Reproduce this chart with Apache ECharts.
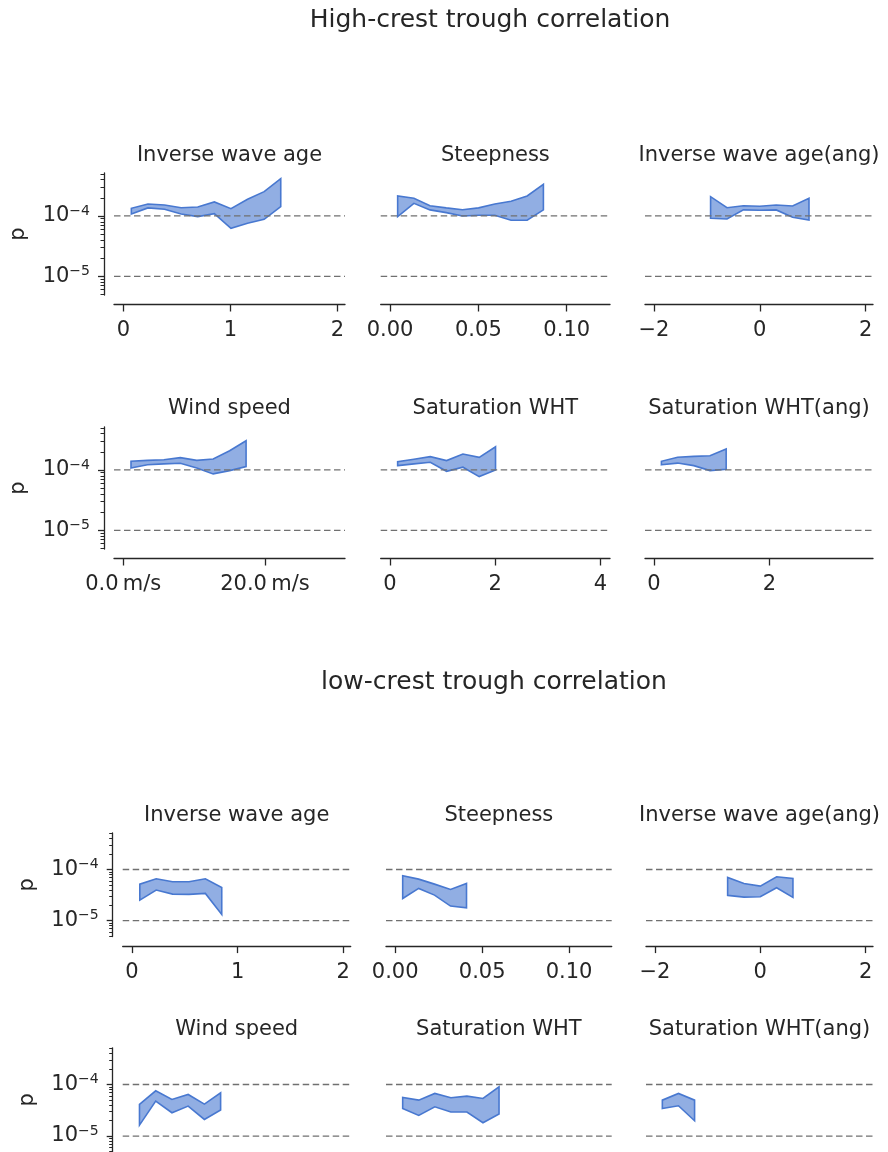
<!DOCTYPE html>
<html>
<head>
<meta charset="utf-8">
<script src="https://cdn.jsdelivr.net/npm/echarts@6/dist/echarts.min.js"></script>
<style>
  html, body { margin: 0; padding: 0; background: #ffffff; }
  #chart { width: 888px; height: 1152px; }
</style>
</head>
<body>
<div id="chart"></div>
<script>
// ---- bin centres of each predictor ----
const iwaX    = [0.075, 0.23, 0.385, 0.54, 0.695, 0.85, 1.005, 1.16, 1.315, 1.47];
const steepX  = [0.0043, 0.0135, 0.0226, 0.0318, 0.0410, 0.0501, 0.0593, 0.0685, 0.0776, 0.0868];
const iwaAngX = [-0.93, -0.62, -0.31, 0, 0.31, 0.62, 0.93];
const windX   = [1.1, 3.42, 5.74, 8.06, 10.38, 12.7, 15.02, 17.34];
const satX    = [0.145, 0.455, 0.765, 1.075, 1.385, 1.695, 2.005];
const satAngX = [0.13, 0.41, 0.69, 0.97, 1.25];

// ---- high-crest: lower / upper bounds of p ----
const hiIwaLo    = [1.08e-4, 1.36e-4, 1.29e-4, 1.08e-4, 0.975e-4, 1.09e-4, 0.625e-4, 0.756e-4, 0.88e-4, 1.43e-4];
const hiIwaUp    = [1.34e-4, 1.58e-4, 1.52e-4, 1.37e-4, 1.41e-4, 1.71e-4, 1.32e-4, 1.89e-4, 2.53e-4, 4.16e-4];
const hiSteepLo  = [0.975e-4, 1.62e-4, 1.26e-4, 1.135e-4, 1.0e-4, 1.026e-4, 1.026e-4, 0.848e-4, 0.848e-4, 1.26e-4];
const hiSteepUp  = [2.14e-4, 1.96e-4, 1.48e-4, 1.36e-4, 1.27e-4, 1.36e-4, 1.58e-4, 1.75e-4, 2.14e-4, 3.35e-4];
const hiIwaAngLo = [0.915e-4, 0.892e-4, 1.26e-4, 1.24e-4, 1.26e-4, 0.95e-4, 0.858e-4];
const hiIwaAngUp = [2.09e-4, 1.37e-4, 1.48e-4, 1.45e-4, 1.52e-4, 1.46e-4, 1.96e-4];
const hiWindLo   = [1.08e-4, 1.22e-4, 1.26e-4, 1.29e-4, 1.08e-4, 0.86e-4, 0.975e-4, 1.135e-4];
const hiWindUp   = [1.39e-4, 1.44e-4, 1.48e-4, 1.6e-4, 1.44e-4, 1.52e-4, 2.08e-4, 3.05e-4];
const hiSatLo    = [1.18e-4, 1.26e-4, 1.34e-4, 0.95e-4, 1.11e-4, 0.776e-4, 1.0e-4];
const hiSatUp    = [1.37e-4, 1.5e-4, 1.66e-4, 1.43e-4, 1.84e-4, 1.62e-4, 2.42e-4];
const hiSatAngLo = [1.22e-4, 1.30e-4, 1.18e-4, 0.975e-4, 1.03e-4];
const hiSatAngUp = [1.39e-4, 1.62e-4, 1.68e-4, 1.72e-4, 2.22e-4];

// ---- low-crest: lower / upper bounds of p ----
const loIwaLo    = [2.53e-5, 3.96e-5, 3.31e-5, 3.26e-5, 3.41e-5, 1.33e-5];
const loIwaUp    = [5.18e-5, 6.58e-5, 5.75e-5, 5.75e-5, 6.58e-5, 4.46e-5];
const loSteepLo  = [2.72e-5, 4.27e-5, 3.16e-5, 1.93e-5, 1.79e-5];
const loSteepUp  = [7.53e-5, 6.48e-5, 5.18e-5, 4.07e-5, 5.34e-5];
const loIwaAngX  = [-0.62, -0.31, 0, 0.31, 0.62];
const loIwaAngLo = [3.12e-5, 2.89e-5, 2.94e-5, 4.4e-5, 2.85e-5];
const loIwaAngUp = [6.98e-5, 5.34e-5, 4.73e-5, 7.2e-5, 6.68e-5];
const loWindLo   = [1.63e-5, 4.76e-5, 2.83e-5, 3.81e-5, 2.1e-5, 3.19e-5];
const loWindUp   = [4.1e-5, 7.54e-5, 5.13e-5, 6.4e-5, 4.16e-5, 6.9e-5];
const loSatLo    = [3.43e-5, 2.51e-5, 3.7e-5, 2.92e-5, 2.92e-5, 1.81e-5, 2.67e-5];
const loSatUp    = [5.6e-5, 4.97e-5, 6.7e-5, 5.52e-5, 5.95e-5, 5.36e-5, 9.0e-5];
const loSatAngLo = [3.43e-5, 3.87e-5, 1.98e-5];
const loSatAngUp = [4.97e-5, 6.7e-5, 4.97e-5];

// ---- texts and ticks ----
const sectionTitles = ['High-crest trough correlation', 'low-crest trough correlation'];
const panelTitles = ['Inverse wave age', 'Steepness', 'Inverse wave age(ang)',
                     'Wind speed', 'Saturation WHT', 'Saturation WHT(ang)'];
const pMajorTicks = [1e-5, 1e-4];
const pMinorTicks = [5e-6, 6e-6, 7e-6, 8e-6, 9e-6,
                     2e-5, 3e-5, 4e-5, 5e-5, 6e-5, 7e-5, 8e-5, 9e-5,
                     2e-4, 3e-4, 4e-4, 5e-4];
const pThresholds = [1e-4, 1e-5];
const iwaTicks    = [0, 1, 2];
const steepTicks  = [0, 0.05, 0.10];
const iwaAngTicks = [-2, 0, 2];
const windTicks   = [0, 20];
const satTicks    = [0, 2, 4];
const satAngTicks = [0, 2];

// ---- axis limits ----
const P_MIN = 4.9e-6, P_MAX = 5.15e-4;
const xLimits = [[-0.087, 2.07], [-0.0053, 0.1245], [-2.17, 2.14],
                 [-1.3, 31.3], [-0.177, 4.18], [-0.154, 3.79]];
const xTickSets = [iwaTicks, steepTicks, iwaAngTicks, windTicks, satTicks, satAngTicks];
const minus = v => (v < 0 ? '\u2212' + Math.abs(v) : String(v));
const xFormatters = [
  v => String(v),
  v => v.toFixed(2),
  v => minus(v),
  v => v.toFixed(1) + '\u2009m/s',
  v => String(v),
  v => String(v)
];

const sections = [
  {
    title: sectionTitles[0], titleX: 490, titleY: 20,
    panels: [
      [iwaX, hiIwaLo, hiIwaUp], [steepX, hiSteepLo, hiSteepUp], [iwaAngX, hiIwaAngLo, hiIwaAngUp],
      [windX, hiWindLo, hiWindUp], [satX, hiSatLo, hiSatUp], [satAngX, hiSatAngLo, hiSatAngUp]
    ],
    rows: [{ top: 173, height: 122, titleY: 156 }, { top: 427, height: 122, titleY: 408.5 }],
    cols: [[114, 345], [380.7, 610], [645, 873]]
  },
  {
    title: sectionTitles[1], titleX: 494, titleY: 682,
    panels: [
      [iwaX.slice(0, 6), loIwaLo, loIwaUp], [steepX.slice(0, 5), loSteepLo, loSteepUp], [loIwaAngX, loIwaAngLo, loIwaAngUp],
      [windX.slice(0, 6), loWindLo, loWindUp], [satX, loSatLo, loSatUp], [satAngX.slice(0, 3), loSatAngLo, loSatAngUp]
    ],
    rows: [{ top: 833, height: 103.6, titleY: 815.5 }, { top: 1047.8, height: 104.2, titleY: 1029.5 }],
    cols: [[122.7, 350.7], [386, 611.7], [646, 873]]
  }
];

const FONT = 'DejaVu Sans';
const INK = '#262626';
const EDGE = '#4878d0';
const FILL = 'rgba(72,120,208,0.6)';

// filled band between the lower and upper bound, drawn once per series
function drawBand(params, api) {
  if (params.dataIndexInside !== 0) return null;
  const n = params.dataInsideLength;
  const lower = [], upper = [];
  for (let i = 0; i < n; i++) {
    const x = api.value(0, i);
    lower.push(api.coord([x, api.value(1, i)]));
    upper.push(api.coord([x, api.value(2, i)]));
  }
  return {
    type: 'polygon',
    shape: { points: lower.concat(upper.reverse()) },
    style: { fill: FILL, stroke: EDGE, lineWidth: 1.6, lineJoin: 'miter' }
  };
}

const grids = [], xAxes = [], yAxes = [], series = [], titles = [];
const textBase = { fontFamily: FONT, fontWeight: 'normal', color: INK };

sections.forEach(sec => {
  titles.push({
    text: sec.title, left: sec.titleX, top: sec.titleY,
    textAlign: 'center', textVerticalAlign: 'middle', padding: 0,
    textStyle: Object.assign({ fontSize: 25 }, textBase)
  });
  sec.rows.forEach((row, r) => {
    sec.cols.forEach((col, c) => {
      const k = r * 3 + c;
      const g = grids.length;
      grids.push({
        left: col[0], top: row.top, width: col[1] - col[0], height: row.height,
        outerBoundsMode: 'none', containLabel: false
      });
      titles.push({
        text: panelTitles[k], left: (col[0] + col[1]) / 2, top: row.titleY,
        textAlign: 'center', textVerticalAlign: 'middle', padding: 0,
        textStyle: Object.assign({ fontSize: 21 }, textBase)
      });
      xAxes.push({
        type: 'value', gridIndex: g, position: 'bottom', offset: 9.5,
        min: xLimits[k][0], max: xLimits[k][1],
        axisLine: { show: true, onZero: false, lineStyle: { color: INK, width: 1.3 } },
        axisTick: { show: true, length: 7, customValues: xTickSets[k], lineStyle: { color: INK, width: 1.3 } },
        axisLabel: {
          customValues: xTickSets[k], formatter: xFormatters[k], margin: 15.5,
          fontFamily: FONT, fontSize: 21, color: INK
        },
        splitLine: { show: false }
      });
      const yi = yAxes.length;
      yAxes.push({
        type: 'log', logBase: 10, gridIndex: g, position: 'left', offset: 10,
        min: P_MIN, max: P_MAX, show: c === 0,
        name: c === 0 ? 'p' : '', nameLocation: 'middle', nameGap: 75,
        nameTextStyle: { fontFamily: FONT, fontSize: 21, color: INK },
        axisLine: { show: true, onZero: false, lineStyle: { color: INK, width: 1.3 } },
        axisTick: { show: true, length: 6, customValues: pMajorTicks, lineStyle: { color: INK, width: 1.3 } },
        axisLabel: {
          customValues: pMajorTicks, margin: 14,
          formatter: v => '{b|10}{s|' + minus(Math.round(Math.log10(v))) + '}',
          rich: {
            b: { fontFamily: FONT, fontSize: 21, lineHeight: 24, color: INK },
            s: { fontFamily: FONT, fontSize: 14, lineHeight: 18, verticalAlign: 'top', color: INK }
          }
        },
        splitLine: { show: false }
      });
      if (c === 0) {
        // minor decade ticks
        yAxes.push({
          type: 'log', logBase: 10, gridIndex: g, position: 'left', offset: 10,
          min: P_MIN, max: P_MAX,
          axisLine: { show: false, onZero: false },
          axisTick: { show: true, length: 3.5, customValues: pMinorTicks, lineStyle: { color: INK, width: 1 } },
          axisLabel: { show: false },
          splitLine: { show: false }
        });
      }
      // dashed significance levels across the whole panel
      pThresholds.forEach(v => {
        series.push({
          type: 'line', xAxisIndex: g, yAxisIndex: yi,
          data: [[xLimits[k][0], v], [xLimits[k][1], v]],
          showSymbol: false, symbol: 'none', silent: true, z: 3,
          lineStyle: { color: '#707070', width: 1.3, type: [6.5, 3.5] }
        });
      });
      const [xs, lo, up] = sec.panels[k];
      series.push({
        type: 'custom', xAxisIndex: g, yAxisIndex: yi, z: 2,
        encode: { x: 0, y: [1, 2] },
        data: xs.map((x, i) => [x, lo[i], up[i]]),
        renderItem: drawBand,
        silent: true
      });
    });
  });
});

const chart = echarts.init(document.getElementById('chart'), null, { renderer: 'canvas' });
chart.setOption({
  backgroundColor: '#ffffff',
  animation: false,
  title: titles,
  grid: grids,
  xAxis: xAxes,
  yAxis: yAxes,
  series: series
});
</script>
</body>
</html>
